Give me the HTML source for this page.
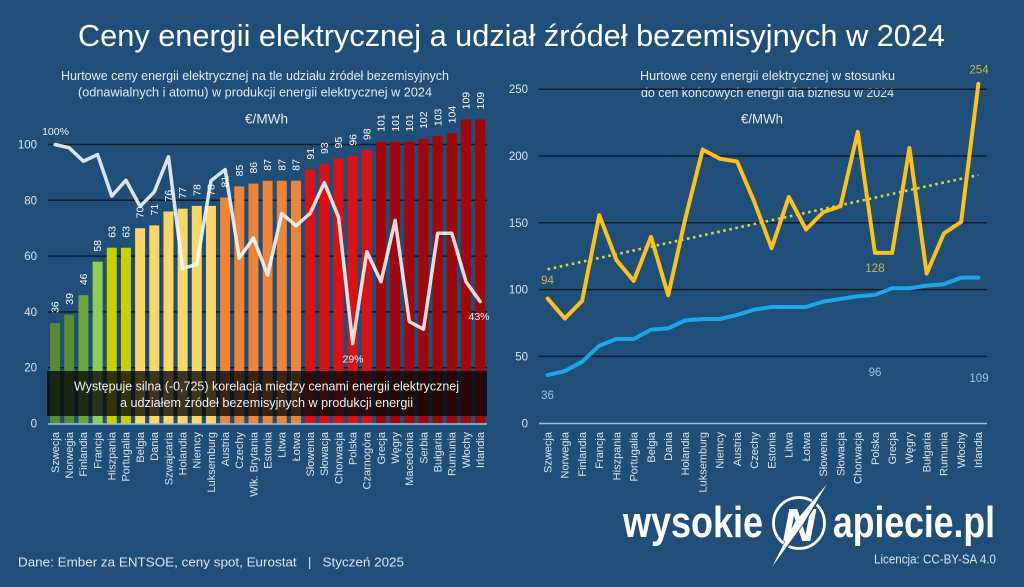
<!DOCTYPE html>
<html><head><meta charset="utf-8">
<style>
html,body{margin:0;padding:0;background:#1f4e79;}
svg{display:block;}
text{font-family:"Liberation Sans","DejaVu Sans",sans-serif;}
</style></head>
<body>
<svg width="1024" height="587" viewBox="0 0 1024 587" xmlns="http://www.w3.org/2000/svg">
<rect x="0" y="0" width="1024" height="587" fill="#1f4e79"/>

<!-- Main title -->
<text x="78" y="46" font-size="31" fill="#ffffff" textLength="867" lengthAdjust="spacingAndGlyphs">Ceny energii elektrycznej a udział źródeł bezemisyjnych w 2024</text>

<!-- LEFT CHART -->
<text x="61" y="80" font-size="12.5" fill="#e3ebf4" textLength="388" lengthAdjust="spacingAndGlyphs">Hurtowe ceny energii elektrycznej na tle udziału źródeł bezemisyjnych</text>
<text x="78" y="96.5" font-size="12.5" fill="#e3ebf4" textLength="354" lengthAdjust="spacingAndGlyphs">(odnawialnych i atomu) w produkcji energii elektrycznej w 2024</text>
<text x="245" y="123.5" font-size="13.5" fill="#e3ebf4" textLength="43" lengthAdjust="spacingAndGlyphs">€/MWh</text>

<g stroke="#0f1c2c" stroke-width="1.5">
<line x1="48" y1="367.7" x2="487" y2="367.7"/>
<line x1="48" y1="311.9" x2="487" y2="311.9"/>
<line x1="48" y1="256.1" x2="487" y2="256.1"/>
<line x1="48" y1="200.3" x2="487" y2="200.3"/>
<line x1="48" y1="144.5" x2="487" y2="144.5"/>
</g>
<g font-size="11.5" fill="#dce6f2" text-anchor="end">
<text x="37" y="427.5">0</text>
<text x="37" y="371.7">20</text>
<text x="37" y="315.9">40</text>
<text x="37" y="260.1">60</text>
<text x="37" y="204.3">80</text>
<text x="37" y="148.5">100</text>
</g>

<!-- bars -->
<g>
<rect x="50.09" y="323.06" width="10" height="100.44" fill="#5b8b30"/>
<rect x="64.26" y="314.69" width="10" height="108.81" fill="#5b8b30"/>
<rect x="78.43" y="295.16" width="10" height="128.34" fill="#6ca63c"/>
<rect x="92.60" y="261.68" width="10" height="161.82" fill="#8fcd52"/>
<rect x="106.77" y="247.73" width="10" height="175.77" fill="#c8d200"/>
<rect x="120.94" y="247.73" width="10" height="175.77" fill="#c8d200"/>
<rect x="135.11" y="228.2" width="10" height="195.3" fill="#fdd766"/>
<rect x="149.28" y="225.41" width="10" height="198.09" fill="#fdd766"/>
<rect x="163.45" y="211.46" width="10" height="212.04" fill="#fdd766"/>
<rect x="177.62" y="208.67" width="10" height="214.83" fill="#fdd766"/>
<rect x="191.79" y="205.88" width="10" height="217.62" fill="#fdd766"/>
<rect x="205.96" y="205.88" width="10" height="217.62" fill="#fdd766"/>
<rect x="220.13" y="197.51" width="10" height="225.99" fill="#ef8436"/>
<rect x="234.30" y="186.35" width="10" height="237.15" fill="#ef8436"/>
<rect x="248.47" y="183.56" width="10" height="239.94" fill="#ef8436"/>
<rect x="262.64" y="180.77" width="10" height="242.73" fill="#ef8436"/>
<rect x="276.81" y="180.77" width="10" height="242.73" fill="#ef8436"/>
<rect x="290.98" y="180.77" width="10" height="242.73" fill="#ef8436"/>
<rect x="305.15" y="169.61" width="10" height="253.89" fill="#dc1212"/>
<rect x="319.32" y="164.03" width="10" height="259.47" fill="#dc1212"/>
<rect x="333.49" y="158.45" width="10" height="265.05" fill="#dc1212"/>
<rect x="347.66" y="155.66" width="10" height="267.84" fill="#dc1212"/>
<rect x="361.83" y="150.08" width="10" height="273.42" fill="#dc1212"/>
<rect x="376.00" y="141.71" width="10" height="281.79" fill="#a20606"/>
<rect x="390.17" y="141.71" width="10" height="281.79" fill="#a20606"/>
<rect x="404.34" y="141.71" width="10" height="281.79" fill="#a20606"/>
<rect x="418.51" y="138.92" width="10" height="284.58" fill="#a20606"/>
<rect x="432.68" y="136.13" width="10" height="287.37" fill="#a20606"/>
<rect x="446.85" y="133.34" width="10" height="290.16" fill="#a20606"/>
<rect x="461.02" y="119.39" width="10" height="304.11" fill="#a20606"/>
<rect x="475.19" y="119.39" width="10" height="304.11" fill="#a20606"/>
</g>
<line x1="48" y1="424" x2="487" y2="424" stroke="#9dc3e6" stroke-width="1.5"/>

<!-- value labels -->
<g font-size="10.5" fill="#ffffff">
<text transform="translate(58.69,313.06) rotate(-90)">36</text>
<text transform="translate(72.86,304.69) rotate(-90)">39</text>
<text transform="translate(87.03,285.16) rotate(-90)">46</text>
<text transform="translate(101.2,251.68) rotate(-90)">58</text>
<text transform="translate(115.37,237.73) rotate(-90)">63</text>
<text transform="translate(129.54,237.73) rotate(-90)">63</text>
<text transform="translate(143.71,218.2) rotate(-90)">70</text>
<text transform="translate(157.88,215.41) rotate(-90)">71</text>
<text transform="translate(172.05,201.46) rotate(-90)">76</text>
<text transform="translate(186.22,198.67) rotate(-90)">77</text>
<text transform="translate(200.39,195.88) rotate(-90)">78</text>
<text transform="translate(214.56,195.88) rotate(-90)">78</text>
<text transform="translate(228.73,187.51) rotate(-90)">81</text>
<text transform="translate(242.9,176.35) rotate(-90)">85</text>
<text transform="translate(257.07,173.56) rotate(-90)">86</text>
<text transform="translate(271.24,170.77) rotate(-90)">87</text>
<text transform="translate(285.41,170.77) rotate(-90)">87</text>
<text transform="translate(299.58,170.77) rotate(-90)">87</text>
<text transform="translate(313.75,159.61) rotate(-90)">91</text>
<text transform="translate(327.92,154.03) rotate(-90)">93</text>
<text transform="translate(342.09,148.45) rotate(-90)">95</text>
<text transform="translate(356.26,145.66) rotate(-90)">96</text>
<text transform="translate(370.43,140.08) rotate(-90)">98</text>
<text transform="translate(384.6,131.71) rotate(-90)">101</text>
<text transform="translate(398.77,131.71) rotate(-90)">101</text>
<text transform="translate(412.94,131.71) rotate(-90)">101</text>
<text transform="translate(427.11,128.92) rotate(-90)">102</text>
<text transform="translate(441.28,126.13) rotate(-90)">103</text>
<text transform="translate(455.45,123.34) rotate(-90)">104</text>
<text transform="translate(469.62,109.39) rotate(-90)">109</text>
<text transform="translate(483.79,109.39) rotate(-90)">109</text>
</g>

<!-- left x labels -->
<g font-size="11" fill="#dce6f2" text-anchor="end">
<text transform="translate(58.9,432) rotate(-90)">Szwecja</text>
<text transform="translate(73.06,432) rotate(-90)">Norwegia</text>
<text transform="translate(87.23,432) rotate(-90)">Finlandia</text>
<text transform="translate(101.4,432) rotate(-90)">Francja</text>
<text transform="translate(115.57,432) rotate(-90)">Hiszpania</text>
<text transform="translate(129.74,432) rotate(-90)">Portugalia</text>
<text transform="translate(143.91,432) rotate(-90)">Belgia</text>
<text transform="translate(158.08,432) rotate(-90)">Dania</text>
<text transform="translate(172.25,432) rotate(-90)">Szwajcaria</text>
<text transform="translate(186.42,432) rotate(-90)">Holandia</text>
<text transform="translate(200.59,432) rotate(-90)">Niemcy</text>
<text transform="translate(214.76,432) rotate(-90)">Luksemburg</text>
<text transform="translate(228.93,432) rotate(-90)">Austria</text>
<text transform="translate(243.1,432) rotate(-90)">Czechy</text>
<text transform="translate(257.27,432) rotate(-90)">Wlk. Brytania</text>
<text transform="translate(271.44,432) rotate(-90)">Estonia</text>
<text transform="translate(285.61,432) rotate(-90)">Litwa</text>
<text transform="translate(299.78,432) rotate(-90)">Łotwa</text>
<text transform="translate(313.95,432) rotate(-90)">Słowenia</text>
<text transform="translate(328.12,432) rotate(-90)">Słowacja</text>
<text transform="translate(342.29,432) rotate(-90)">Chorwacja</text>
<text transform="translate(356.46,432) rotate(-90)">Polska</text>
<text transform="translate(370.63,432) rotate(-90)">Czarnogóra</text>
<text transform="translate(384.8,432) rotate(-90)">Grecja</text>
<text transform="translate(398.97,432) rotate(-90)">Węgry</text>
<text transform="translate(413.14,432) rotate(-90)">Macedonia</text>
<text transform="translate(427.31,432) rotate(-90)">Serbia</text>
<text transform="translate(441.48,432) rotate(-90)">Bułgaria</text>
<text transform="translate(455.65,432) rotate(-90)">Rumunia</text>
<text transform="translate(469.82,432) rotate(-90)">Włochy</text>
<text transform="translate(483.99,432) rotate(-90)">Irlandia</text>
</g>

<!-- white share line -->
<polyline fill="none" stroke="#ffffff" stroke-opacity="0.85" stroke-width="3.5" stroke-linejoin="round" stroke-linecap="round"
points="55.09,144.5 69.26,147.85 83.43,161.24 97.60,154.54 111.77,196.12 125.94,180.21 140.11,206.44 154.28,191.93 168.45,156.78 182.62,268.38 196.79,264.47 210.96,180.77 225.13,169.61 239.30,258.05 253.47,237.97 267.64,275.07 281.81,213.41 295.98,225.69 310.15,213.41 324.32,182.72 338.49,217.04 352.66,343.43 366.83,251.64 381.00,281.77 395.17,220.39 409.34,321.67 423.51,329.20 437.68,233.22 451.85,233.22 466.02,281.77 480.19,301.58"/>
<g font-size="10.5" fill="#eef2f7" text-anchor="middle">
<text x="55.5" y="135">100%</text>
<text x="353" y="362.5">29%</text>
<text x="479" y="320">43%</text>
</g>

<!-- overlay box -->
<rect x="47" y="371" width="440" height="45" fill="#080808" fill-opacity="0.78"/>
<text x="74" y="390.5" font-size="13" fill="#f2f2f2" textLength="385" lengthAdjust="spacingAndGlyphs">Występuje silna (-0,725) korelacja między cenami energii elektrycznej</text>
<text x="120" y="407" font-size="13" fill="#f2f2f2" textLength="293" lengthAdjust="spacingAndGlyphs">a udziałem źródeł bezemisyjnych w produkcji energii</text>

<!-- RIGHT CHART -->
<text x="640" y="80" font-size="12.5" fill="#e3ebf4" textLength="255" lengthAdjust="spacingAndGlyphs">Hurtowe ceny energii elektrycznej w stosunku</text>
<text x="641" y="97" font-size="12.5" fill="#e3ebf4" textLength="253" lengthAdjust="spacingAndGlyphs">do cen końcowych energii dla biznesu w 2024</text>
<text x="741" y="123.5" font-size="13.5" fill="#e3ebf4" textLength="42" lengthAdjust="spacingAndGlyphs">€/MWh</text>

<g stroke="#0f1c2c" stroke-width="1.5">
<line x1="539" y1="356.4" x2="987" y2="356.4"/>
<line x1="539" y1="289.6" x2="987" y2="289.6"/>
<line x1="539" y1="222.8" x2="987" y2="222.8"/>
<line x1="539" y1="156.0" x2="987" y2="156.0"/>
<line x1="539" y1="89.2" x2="987" y2="89.2"/>
</g>
<line x1="539" y1="423.5" x2="987" y2="423.5" stroke="#9dc3e6" stroke-width="1.5"/>
<g font-size="11.5" fill="#dce6f2" text-anchor="end">
<text x="528" y="427.5">0</text>
<text x="528" y="360.4">50</text>
<text x="528" y="293.6">100</text>
<text x="528" y="226.8">150</text>
<text x="528" y="160">200</text>
<text x="528" y="93.2">250</text>
</g>

<!-- trend -->
<line x1="547.6" y1="269.3" x2="978.35" y2="175" stroke="#d6d84a" stroke-width="2.6" stroke-dasharray="2.6 3.6"/>

<polyline fill="none" stroke="#1ea6ea" stroke-width="4" stroke-linejoin="round" stroke-linecap="round"
points="547.6,375.1 564.83,371.1 582.06,361.74 599.29,345.71 616.52,339.03 633.75,339.03 650.98,329.68 668.21,328.34 685.44,320.33 702.67,318.99 719.9,318.99 737.13,314.98 754.36,309.64 771.59,306.97 788.82,306.97 806.05,306.97 823.28,301.62 840.51,298.95 857.74,296.28 874.97,294.94 892.2,288.26 909.43,288.26 926.66,285.59 943.89,284.26 961.12,277.58 978.35,277.58"/>
<polyline fill="none" stroke="#fcc21b" stroke-width="4" stroke-linejoin="round" stroke-linecap="round"
points="547.6,298.55 564.83,318.46 582.06,300.96 599.29,215.18 616.52,260.21 633.75,280.92 650.98,236.83 668.21,295.21 685.44,218.12 702.67,149.59 719.9,158.67 737.13,161.61 754.36,201.96 771.59,248.18 788.82,196.88 806.05,229.48 823.28,212.11 840.51,206.23 857.74,131.95 874.97,252.86 892.2,252.86 909.43,147.98 926.66,273.57 943.89,233.49 961.12,221.87 978.35,83.86"/>

<g font-size="11.5" text-anchor="middle">
<text x="547.5" y="284" fill="#cdb54a">94</text>
<text x="875" y="272" fill="#cdb54a">128</text>
<text x="979" y="73.5" fill="#cdb54a">254</text>
<text x="547.5" y="399" fill="#9dc3e6">36</text>
<text x="875" y="376" fill="#9dc3e6">96</text>
<text x="979" y="382" fill="#9dc3e6">109</text>
</g>

<!-- right x labels -->
<g font-size="11" fill="#dce6f2" text-anchor="end">
<text transform="translate(551.4,432) rotate(-90)">Szwecja</text>
<text transform="translate(568.63,432) rotate(-90)">Norwegia</text>
<text transform="translate(585.86,432) rotate(-90)">Finlandia</text>
<text transform="translate(603.09,432) rotate(-90)">Francja</text>
<text transform="translate(620.32,432) rotate(-90)">Hiszpania</text>
<text transform="translate(637.55,432) rotate(-90)">Portugalia</text>
<text transform="translate(654.78,432) rotate(-90)">Belgia</text>
<text transform="translate(672.01,432) rotate(-90)">Dania</text>
<text transform="translate(689.24,432) rotate(-90)">Holandia</text>
<text transform="translate(706.47,432) rotate(-90)">Luksemburg</text>
<text transform="translate(723.7,432) rotate(-90)">Niemcy</text>
<text transform="translate(740.93,432) rotate(-90)">Austria</text>
<text transform="translate(758.16,432) rotate(-90)">Czechy</text>
<text transform="translate(775.39,432) rotate(-90)">Estonia</text>
<text transform="translate(792.62,432) rotate(-90)">Litwa</text>
<text transform="translate(809.85,432) rotate(-90)">Łotwa</text>
<text transform="translate(827.08,432) rotate(-90)">Słowenia</text>
<text transform="translate(844.31,432) rotate(-90)">Słowacja</text>
<text transform="translate(861.54,432) rotate(-90)">Chorwacja</text>
<text transform="translate(878.77,432) rotate(-90)">Polska</text>
<text transform="translate(896,432) rotate(-90)">Grecja</text>
<text transform="translate(913.23,432) rotate(-90)">Węgry</text>
<text transform="translate(930.46,432) rotate(-90)">Bułgaria</text>
<text transform="translate(947.69,432) rotate(-90)">Rumunia</text>
<text transform="translate(964.92,432) rotate(-90)">Włochy</text>
<text transform="translate(982.15,432) rotate(-90)">Irlandia</text>
</g>

<!-- Footer -->
<text x="18" y="566.5" font-size="13" fill="#dbe6f2" textLength="386" lengthAdjust="spacingAndGlyphs" xml:space="preserve">Dane: Ember za ENTSOE, ceny spot, Eurostat   |   Styczeń 2025</text>

<!-- Logo -->
<text x="623" y="537" font-size="44" font-weight="bold" fill="#ffffff" textLength="140" lengthAdjust="spacingAndGlyphs">wysokie</text>
<circle cx="799" cy="523" r="25.5" fill="none" stroke="#ffffff" stroke-width="2.8"/>
<text x="799" y="541" font-size="46" font-weight="bold" font-style="italic" fill="#ffffff" text-anchor="middle">N</text>
<line x1="829" y1="481" x2="770" y2="569" stroke="#1f4e79" stroke-width="6"/>
<polygon points="827,484 803,524 772,567 795,522" fill="#ffffff"/>
<text x="833" y="537" font-size="44" font-weight="bold" fill="#ffffff" textLength="162" lengthAdjust="spacingAndGlyphs">apiecie.pl</text>
<text x="874" y="563.5" font-size="12.5" fill="#dbe6f2" textLength="122" lengthAdjust="spacingAndGlyphs">Licencja: CC-BY-SA 4.0</text>
</svg>
</body></html>
